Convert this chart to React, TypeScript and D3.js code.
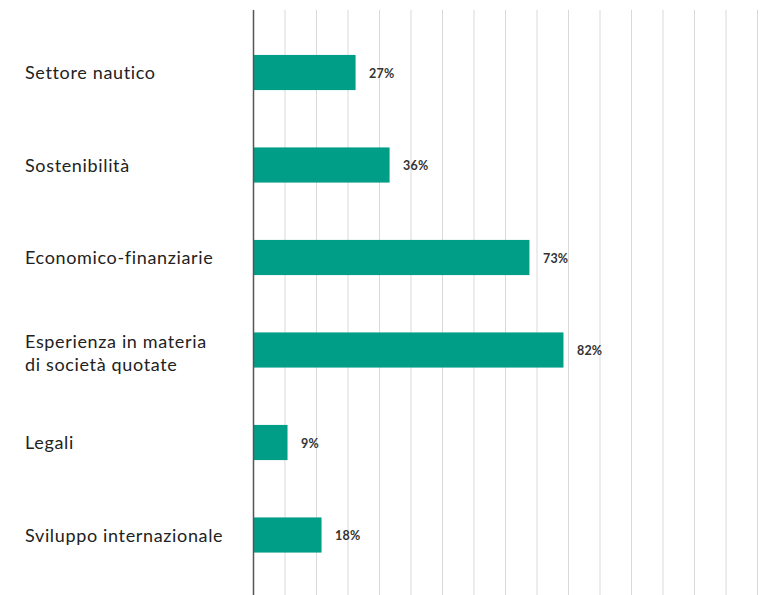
import React from "react";
import * as d3 from "d3";

const categories: string[][] = [
  ["Settore nautico"],
  ["Sostenibilità"],
  ["Economico-finanziarie"],
  ["Esperienza in materia", "di società quotate"],
  ["Legali"],
  ["Sviluppo internazionale"],
];
const values: number[] = [27, 36, 73, 82, 9, 18];
const gridStep = 100 / 12;
const gridCount = 16;

const W = 772;
const H = 595;

export default function App() {
  const keys = categories.map((c) => c.join(" "));
  const x = d3.scaleLinear().domain([0, 100]).range([253.5, 631.5]);
  const y = d3
    .scaleBand<string>()
    .domain(keys)
    .range([26.25, 581.25])
    .paddingInner(0.62)
    .paddingOuter(0.31);
  const grid = d3.range(1, gridCount + 1).map((i) => i * gridStep);
  const bw = y.bandwidth();
  const font = "Lato, 'Open Sans', sans-serif";
  const lineH = 23.5;

  return (
    <svg
      width={W}
      height={H}
      style={{ position: "absolute", left: 0, top: 0, background: "#fff" }}
    >
      {grid.map((g, i) => (
        <line
          key={i}
          x1={x(g)}
          x2={x(g)}
          y1={10}
          y2={H}
          stroke="#d9d9d9"
          strokeWidth={1}
        />
      ))}
      {keys.map((k, i) => {
        const cy = (y(k) as number) + bw / 2;
        const lines = categories[i];
        const first = cy + 6.5 - ((lines.length - 1) * lineH) / 2 + (lines.length > 1 ? 3 : 0);
        return (
          <g key={k}>
            <rect
              x={x(0)}
              y={y(k)}
              width={x(values[i]) - x(0)}
              height={bw}
              fill="#009e87"
            />
            <text
              x={x(values[i]) + 13.5}
              y={cy + 5}
              fontFamily={font}
              fontWeight={700}
              fontSize={12.5}
              letterSpacing={0.2}
              fill="#333"
            >
              {values[i]}%
            </text>
            <text fontFamily={font} fontSize={18} letterSpacing={0.65} fill="#222">
              {lines.map((l, j) => (
                <tspan key={j} x={25} y={first + j * lineH}>
                  {l}
                </tspan>
              ))}
            </text>
          </g>
        );
      })}
      <line
        x1={x(0)}
        x2={x(0)}
        y1={10}
        y2={H}
        stroke="#555"
        strokeWidth={1.5}
      />
    </svg>
  );
}
